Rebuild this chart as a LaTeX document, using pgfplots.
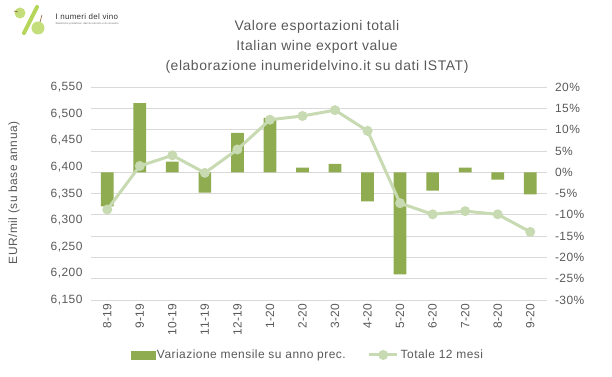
\documentclass[border=0pt]{standalone}
\usepackage{fontspec}
\setmainfont{Liberation Sans}[LetterSpace=4]
\usepackage{pgfplots}
\pgfplotsset{compat=1.18}
\definecolor{barcol}{HTML}{8FAC50}
\definecolor{linecol}{HTML}{C8DAB2}
\definecolor{txtcol}{HTML}{595959}
\definecolor{gridcol}{HTML}{D9D9D9}
\definecolor{logogreen}{HTML}{B5D65A}
\begin{document}
\begin{tikzpicture}[x=1bp,y=1bp]
\useasboundingbox (0bp,0bp) rectangle (612bp,377bp);
\pgfplotsset{
  common/.style={
    at={(91bp,77.1bp)}, anchor=south west, scale only axis,
    width=455.5bp, height=212.6bp,
    xmin=-0.5, xmax=13.5,
    xtick={0,...,13},
    ticklabel style={font=\fontsize{12}{14}\selectfont, text=txtcol},
    major tick length=0pt,
    axis line style={draw=none},
    /pgf/number format/assume math mode=true,
  }
}
% right axis: bars
\begin{axis}[common,
  axis y line*=right,
  axis x line*=bottom,
  ymin=-30, ymax=20, ytick={-30,-25,...,20},
  yticklabel={\pgfmathprintnumber{\tick}\%},
  ymajorgrids, grid style={gridcol, line width=0.75bp},
  xticklabels={8-19,9-19,10-19,11-19,12-19,1-20,2-20,3-20,4-20,5-20,6-20,7-20,8-20,9-20},
  xticklabel style={rotate=90, anchor=east},
  yticklabel style={xshift=5bp},
]
\addplot[ybar, bar shift=0pt, bar width=12.7bp, fill=barcol, draw=none] coordinates {
(0,-8.0) (1,16.3) (2,2.5) (3,-4.8) (4,9.3) (5,12.8) (6,1.1) (7,2.0)
(8,-6.8) (9,-24.0) (10,-4.3) (11,1.1) (12,-1.7) (13,-5.2)
};
\end{axis}
% left axis: line
\begin{axis}[common,
  axis y line*=left,
  axis x line*=bottom,
  xticklabels={},
  ymin=6150, ymax=6550, ytick={6150,6200,...,6550},
  scaled y ticks=false,
  yticklabel style={/pgf/number format/.cd, 1000 sep={,}, /tikz/.cd, xshift=-5bp},
  legend columns=2,
  legend style={at={(0.476,-0.259)}, anchor=center, draw=none, fill=none,
    font=\fontsize{12}{14}\selectfont, text=txtcol,
    /tikz/every even column/.append style={column sep=20bp},
    /tikz/every odd column/.append style={column sep=0bp}},
]
\addlegendimage{legend image code/.code={\fill[barcol] (0bp,-4bp) rectangle (24bp,4bp);}}
\addlegendentry{Variazione mensile su anno prec.}
\addplot[linecol, line width=3bp, mark=*, mark size=3.4bp, mark options={fill=linecol, draw=linecol},
  legend image code/.code={\draw[linecol, line width=3bp] (0bp,0bp) -- (28bp,0bp); \fill[linecol] (14bp,0bp) circle (3.4bp);}]
coordinates {
(0,6320) (1,6402) (2,6422) (3,6389) (4,6433) (5,6489) (6,6496) (7,6507)
(8,6468) (9,6332) (10,6311) (11,6317) (12,6311) (13,6278)
};
\addlegendentry{Totale 12 mesi}
\end{axis}
% y label
\node[rotate=90, font=\fontsize{12}{14}\selectfont, text=txtcol] at (14bp,184bp) {EUR/mil (su base annua)};
% title
\node[align=center, font=\fontsize{14}{20}\selectfont, text=txtcol] at (317bp,330bp)
  {Valore esportazioni totali\\Italian wine export value\\(elaborazione inumeridelvino.it su dati ISTAT)};
% logo
\draw[logogreen, line width=4bp, line cap=round] (24bp,344bp) -- (37bp,370bp);
\fill[logogreen!80!white] (20bp,364bp) circle (5.5bp);
\fill[logogreen!80!white] (38bp,349bp) circle (6.5bp);
\draw[brown!70!black, line width=0.6bp] (14bp,366bp) -- (18bp,365bp);
\draw[brown!70!black, line width=0.6bp] (40bp,355bp) -- (42bp,362bp);
\node[anchor=west, font=\fontsize{8}{9}\selectfont, text=black!80] at (52bp,360bp) {I numeri del vino};
\node[anchor=west, font=\fontsize{2.6}{3}\selectfont, text=black!60] at (52bp,353bp) {Statistiche produttive, dati di mercato e di consumo};
\end{tikzpicture}
\end{document}
